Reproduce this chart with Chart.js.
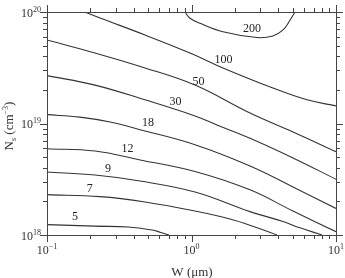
<!DOCTYPE html>
<html>
<head>
<meta charset="utf-8">
<script src="https://cdn.jsdelivr.net/npm/chart.js@4"></script>
<style>
  body { margin: 0; background: #fff; }
  #box { width: 345px; height: 278px; }
</style>
</head>
<body>
<div id="box"><canvas id="grafico"></canvas></div>
<script>
const niveis = ['5', '7', '9', '12', '18', '30', '50', '100', '200'];

// W (um) and Ns (cm^-3)
const w5 = [0.1, 0.215, 0.364, 0.533, 0.606, 0.698];
const n5 = [1.24e18, 1.20e18, 1.18e18, 1.11e18, 1.06e18, 1.0e18];

const w7 = [0.1, 0.233, 0.477, 1.057, 1.847, 2.75, 3.91];
const n7 = [2.30e18, 2.21e18, 1.98e18, 1.64e18, 1.39e18, 1.18e18, 1.0e18];

const w9 = [0.1, 0.215, 0.441, 1.057, 2.54, 4.30, 5.63, 8.0];
const n9 = [3.67e18, 3.45e18, 3.05e18, 2.43e18, 1.62e18, 1.32e18, 1.16e18, 1.0e18];

const w12 = [0.1, 0.215, 0.441, 1.057, 2.54, 5.04, 10];
const n12 = [5.94e18, 5.66e18, 4.71e18, 3.71e18, 2.54e18, 1.64e18, 1.07e18];

const w18 = [0.1, 0.169, 0.273, 0.441, 1.057, 2.54, 5.04, 10];
const n18 = [1.20e19, 1.14e19, 1.03e19, 8.8e18, 6.45e18, 4.16e18, 2.70e18, 1.73e18];

const w30 = [0.1, 0.215, 0.477, 1.057, 1.50, 2.54, 5.04, 10];
const n30 = [2.69e19, 2.21e19, 1.63e19, 1.17e19, 9.7e18, 7.37e18, 4.91e18, 3.16e18];

const w50 = [0.1, 0.215, 0.477, 1.057, 2.54, 5.04, 10];
const n50 = [5.61e19, 4.29e19, 3.15e19, 2.21e19, 1.24e19, 8.39e18, 5.59e18];

const w100 = [0.183, 0.233, 0.477, 0.976, 1.652, 3.66, 6.30, 10];
const n100 = [1e20, 8.84e19, 6.22e19, 4.29e19, 3.15e19, 2.08e19, 1.63e19, 1.44e19];

const w200 = [0.902, 0.976, 1.145, 1.652, 2.84, 3.66, 4.30, 4.81, 5.20];
const n200 = [1e20, 8.79e19, 7.93e19, 6.65e19, 5.90e19, 6.10e19, 6.90e19, 8.47e19, 1e20];

const curvasW = [w5, w7, w9, w12, w18, w30, w50, w100, w200];
const curvasN = [n5, n7, n9, n12, n18, n30, n50, n100, n200];

// where each level number is written
const rotuloW = [0.156, 0.198, 0.264, 0.361, 0.500, 0.775, 1.118, 1.665, 2.62];
const rotuloN = [1.44e18, 2.59e18, 3.91e18, 5.97e18, 1.01e19, 1.57e19, 2.38e19, 3.75e19, 7.11e19];

const xDecadas = [0.1, 1, 10];
const xExpoentes = ['\u22121', '0', '1'];
const yDecadas = [1e18, 1e19, 1e20];
const yExpoentes = ['18', '19', '20'];

const serif = '"Liberation Serif", "DejaVu Serif", serif';

function potencia(ctx, exp, x, y, alinhar) {
  ctx.font = '12px ' + serif;
  const wb = ctx.measureText('10').width;
  ctx.font = '8px ' + serif;
  const we = ctx.measureText(exp).width;
  const x0 = alinhar === 'right' ? x - wb - we : x - (wb + we) / 2;
  ctx.font = '12px ' + serif;
  ctx.fillText('10', x0, y);
  ctx.font = '8px ' + serif;
  ctx.fillText(exp, x0 + wb, y - 5);
}

function pedacos(ctx, partes, x0) {
  let x = x0;
  partes.forEach(p => {
    ctx.font = p[1] + 'px ' + serif;
    ctx.fillText(p[0], x, p[2]);
    x += ctx.measureText(p[0]).width;
  });
}

function largura(ctx, partes) {
  let w = 0;
  partes.forEach(p => {
    ctx.font = p[1] + 'px ' + serif;
    w += ctx.measureText(p[0]).width;
  });
  return w;
}

const eixos = {
  id: 'eixos',
  afterDraw(chart) {
    const ctx = chart.ctx;
    const a = chart.chartArea;
    const sx = chart.scales.x;
    const sy = chart.scales.y;
    ctx.save();
    ctx.strokeStyle = '#444';
    ctx.lineWidth = 1;
    ctx.strokeRect(a.left + 0.5, a.top + 0.5, a.right - a.left, a.bottom - a.top);

    // tick marks, outward on all four sides
    ctx.beginPath();
    for (let d = 0; d < xDecadas.length; d++) {
      const top = d === xDecadas.length - 1 ? 1 : 9;
      for (let m = 1; m <= top; m++) {
        const px = Math.round(sx.getPixelForValue(m * xDecadas[d])) + 0.5;
        const len = m === 1 ? 7 : 4;
        ctx.moveTo(px, a.bottom); ctx.lineTo(px, a.bottom + len);
        ctx.moveTo(px, a.top); ctx.lineTo(px, a.top - len);
      }
    }
    for (let d = 0; d < yDecadas.length; d++) {
      const top = d === yDecadas.length - 1 ? 1 : 9;
      for (let m = 1; m <= top; m++) {
        const py = Math.round(sy.getPixelForValue(m * yDecadas[d])) + 0.5;
        const len = m === 1 ? 7 : 4;
        ctx.moveTo(a.left, py); ctx.lineTo(a.left - len, py);
        ctx.moveTo(a.right, py); ctx.lineTo(a.right + len, py);
      }
    }
    ctx.stroke();

    ctx.fillStyle = '#333';
    ctx.textAlign = 'left';
    ctx.textBaseline = 'alphabetic';
    xDecadas.forEach((v, i) => potencia(ctx, xExpoentes[i], sx.getPixelForValue(v), a.bottom + 19, 'center'));
    yDecadas.forEach((v, i) => potencia(ctx, yExpoentes[i], a.left - 6, sy.getPixelForValue(v) + 4.5, 'right'));

    // axis titles
    const tituloX = [['W (\u03bcm)', 13, 0]];
    pedacos(ctx, tituloX.map(p => [p[0], p[1], 276]), 192 - largura(ctx, tituloX) / 2);

    const tituloY = [['N', 13, 0], ['s', 8, 3], [' (cm', 13, 0], ['\u22123', 8, -5], [')', 13, 0]];
    ctx.save();
    ctx.translate(13, 126);
    ctx.rotate(-Math.PI / 2);
    pedacos(ctx, tituloY, -largura(ctx, tituloY) / 2);
    ctx.restore();

    // level numbers on the contours
    ctx.font = '12px ' + serif;
    ctx.textAlign = 'center';
    ctx.textBaseline = 'middle';
    ctx.fillStyle = '#222';
    niveis.forEach((t, i) => {
      ctx.fillText(t, sx.getPixelForValue(rotuloW[i]), sy.getPixelForValue(rotuloN[i]));
    });
    ctx.restore();
  }
};

new Chart(document.getElementById('grafico'), {
  type: 'line',
  data: {
    datasets: curvasW.map((w, i) => ({
      label: niveis[i],
      data: w.map((v, j) => ({ x: v, y: curvasN[i][j] })),
      borderColor: '#333',
      borderWidth: 1.1,
      pointRadius: 0,
      tension: 0.4,
      fill: false
    }))
  },
  options: {
    responsive: true,
    maintainAspectRatio: false,
    animation: false,
    layout: { padding: { left: 47, right: 9, top: 12, bottom: 43 } },
    plugins: { legend: { display: false }, tooltip: { enabled: false } },
    scales: {
      x: { type: 'logarithmic', min: 0.1, max: 10, display: false },
      y: { type: 'logarithmic', min: 1e18, max: 1e20, display: false }
    }
  },
  plugins: [eixos]
});
</script>
</body>
</html>
